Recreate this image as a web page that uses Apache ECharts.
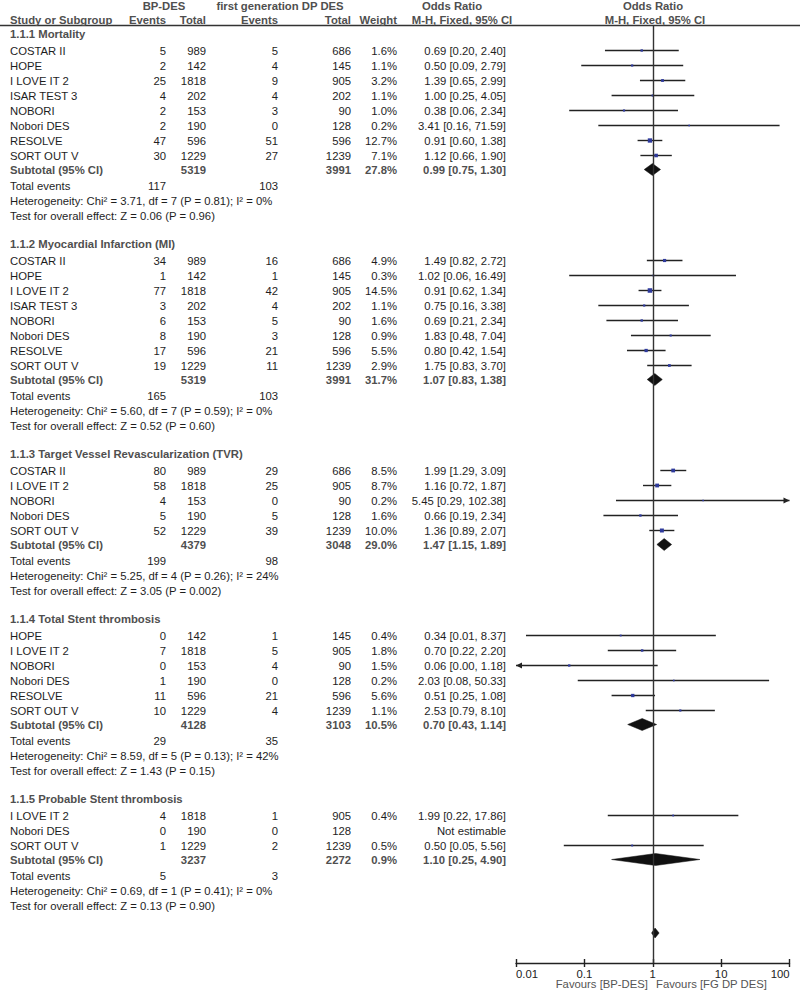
<!DOCTYPE html>
<html><head><meta charset="utf-8">
<script src="https://cdn.jsdelivr.net/npm/echarts@6/dist/echarts.min.js"></script>
<style>html,body{margin:0;padding:0;background:#fff}#c{width:800px;height:993px}</style>
</head><body><div id="c"></div>
<script>
// ---------------- DATA ----------------
const sectionTitles = [
  '1.1.1 Mortality',
  '1.1.2 Myocardial Infarction (MI)',
  '1.1.3 Target Vessel Revascularization (TVR)',
  '1.1.4 Total Stent thrombosis',
  '1.1.5 Probable Stent thrombosis'
];
// [study, BP events, BP total, FG events, FG total, weight %, OR, CI low, CI high]
const mortality = [
  ['COSTAR II', 5, 989, 5, 686, 1.6, 0.69, 0.20, 2.40],
  ['HOPE', 2, 142, 4, 145, 1.1, 0.50, 0.09, 2.79],
  ['I LOVE IT 2', 25, 1818, 9, 905, 3.2, 1.39, 0.65, 2.99],
  ['ISAR TEST 3', 4, 202, 4, 202, 1.1, 1.00, 0.25, 4.05],
  ['NOBORI', 2, 153, 3, 90, 1.0, 0.38, 0.06, 2.34],
  ['Nobori DES', 2, 190, 0, 128, 0.2, 3.41, 0.16, 71.59],
  ['RESOLVE', 47, 596, 51, 596, 12.7, 0.91, 0.60, 1.38],
  ['SORT OUT V', 30, 1229, 27, 1239, 7.1, 1.12, 0.66, 1.90]
];
const infarction = [
  ['COSTAR II', 34, 989, 16, 686, 4.9, 1.49, 0.82, 2.72],
  ['HOPE', 1, 142, 1, 145, 0.3, 1.02, 0.06, 16.49],
  ['I LOVE IT 2', 77, 1818, 42, 905, 14.5, 0.91, 0.62, 1.34],
  ['ISAR TEST 3', 3, 202, 4, 202, 1.1, 0.75, 0.16, 3.38],
  ['NOBORI', 6, 153, 5, 90, 1.6, 0.69, 0.21, 2.34],
  ['Nobori DES', 8, 190, 3, 128, 0.9, 1.83, 0.48, 7.04],
  ['RESOLVE', 17, 596, 21, 596, 5.5, 0.80, 0.42, 1.54],
  ['SORT OUT V', 19, 1229, 11, 1239, 2.9, 1.75, 0.83, 3.70]
];
const revascularization = [
  ['COSTAR II', 80, 989, 29, 686, 8.5, 1.99, 1.29, 3.09],
  ['I LOVE IT 2', 58, 1818, 25, 905, 8.7, 1.16, 0.72, 1.87],
  ['NOBORI', 4, 153, 0, 90, 0.2, 5.45, 0.29, 102.38],
  ['Nobori DES', 5, 190, 5, 128, 1.6, 0.66, 0.19, 2.34],
  ['SORT OUT V', 52, 1229, 39, 1239, 10.0, 1.36, 0.89, 2.07]
];
const totalThrombosis = [
  ['HOPE', 0, 142, 1, 145, 0.4, 0.34, 0.014, 8.37],
  ['I LOVE IT 2', 7, 1818, 5, 905, 1.8, 0.70, 0.22, 2.20],
  ['NOBORI', 0, 153, 4, 90, 1.5, 0.06, 0.003, 1.18],
  ['Nobori DES', 1, 190, 0, 128, 0.2, 2.03, 0.08, 50.33],
  ['RESOLVE', 11, 596, 21, 596, 5.6, 0.51, 0.25, 1.08],
  ['SORT OUT V', 10, 1229, 4, 1239, 1.1, 2.53, 0.79, 8.10]
];
const probableThrombosis = [
  ['I LOVE IT 2', 4, 1818, 1, 905, 0.4, 1.99, 0.22, 17.86],
  ['Nobori DES', 0, 190, 0, 128, null, null, null, null],
  ['SORT OUT V', 1, 1229, 2, 1239, 0.5, 0.50, 0.05, 5.56]
];
// [BP total, FG total, weight %, OR, CI low, CI high]
const subtotals = [
  [5319, 3991, 27.8, 0.99, 0.75, 1.30],
  [5319, 3991, 31.7, 1.07, 0.83, 1.38],
  [4379, 3048, 29.0, 1.47, 1.15, 1.89],
  [4128, 3103, 10.5, 0.70, 0.43, 1.14],
  [3237, 2272, 0.9, 1.10, 0.25, 4.90]
];
const totalEvents = [[117, 103], [165, 103], [199, 98], [29, 35], [5, 3]];
const heterogeneity = [
  'Heterogeneity: Chi\u00b2 = 3.71, df = 7 (P = 0.81); I\u00b2 = 0%',
  'Heterogeneity: Chi\u00b2 = 5.60, df = 7 (P = 0.59); I\u00b2 = 0%',
  'Heterogeneity: Chi\u00b2 = 5.25, df = 4 (P = 0.26); I\u00b2 = 24%',
  'Heterogeneity: Chi\u00b2 = 8.59, df = 5 (P = 0.13); I\u00b2 = 42%',
  'Heterogeneity: Chi\u00b2 = 0.69, df = 1 (P = 0.41); I\u00b2 = 0%'
];
const overallTests = [
  'Test for overall effect: Z = 0.06 (P = 0.96)',
  'Test for overall effect: Z = 0.52 (P = 0.60)',
  'Test for overall effect: Z = 3.05 (P = 0.002)',
  'Test for overall effect: Z = 1.43 (P = 0.15)',
  'Test for overall effect: Z = 0.13 (P = 0.90)'
];
// overall pooled diamond (no label in the figure) [OR, low, high]
const overallEstimate = [1.08, 0.96, 1.24];
const tickLabels = ['0.01', '0.1', '1', '10', '100'];
const favourLabels = ['Favours [BP-DES]', 'Favours [FG DP DES]'];

// ---------------- LAYOUT ----------------
const AXIS_MIN = 0.01, AXIS_MAX = 100;
const LAYOUT = { firstTitle: 33.5, afterTitle: 17, pitch: 15, beforeSubtotal: 14, beforeTotal: 16, sectionGap: 28, overallGap: 27.5 };
const COL = { name: 10, bpEv: 166, bpTot: 206, fgEv: 278, fgTot: 351, wt: 397, or: 506 };
const FONT = '"Liberation Sans", Arial, sans-serif';
const FS = '11.3px';
const DARK = '#1e1e1e', GREY = '#4f4f4f';

const sections = [mortality, infarction, revascularization, totalThrombosis, probableThrombosis];
const rows = [], ciData = [], diamondData = [];
let yy = LAYOUT.firstTitle;
sections.forEach((studies, si) => {
  rows.push({ kind: 'title', y: yy, text: sectionTitles[si] });
  yy += LAYOUT.afterTitle;
  studies.forEach((st, i) => {
    if (i > 0) yy += LAYOUT.pitch;
    rows.push({ kind: 'study', y: yy, d: st });
    if (st[6] != null) ciData.push([st[6], yy, st[7], st[8], st[5]]);
  });
  yy += LAYOUT.beforeSubtotal;
  const sb = subtotals[si];
  rows.push({ kind: 'subtotal', y: yy, d: sb });
  diamondData.push([sb[3], yy, sb[4], sb[5], 6]);
  yy += LAYOUT.beforeTotal;
  rows.push({ kind: 'total', y: yy, d: totalEvents[si] });
  yy += LAYOUT.pitch;
  rows.push({ kind: 'note', y: yy, text: heterogeneity[si] });
  yy += LAYOUT.pitch;
  rows.push({ kind: 'note', y: yy, text: overallTests[si] });
  if (si < sections.length - 1) yy += LAYOUT.sectionGap;
});
diamondData.push([overallEstimate[0], yy + LAYOUT.overallGap, overallEstimate[1], overallEstimate[2], 5]);

const f2 = v => v.toFixed(2);
const orText = (o, l, h) => o == null ? 'Not estimable' : `${f2(o)} [${f2(l)}, ${f2(h)}]`;

function txt(text, x, y, align, bold, color) {
  return { type: 'text', style: { text: String(text), x, y, align, verticalAlign: 'middle',
    font: `${bold ? 'bold ' : ''}${FS} ${FONT}`, fill: color } };
}

function renderRow(params, api) {
  const r = rows[api.value(2)];
  const y = api.coord([1, api.value(1)])[1];
  const c = [];
  if (r.kind === 'title') c.push(txt(r.text, COL.name, y, 'left', true, GREY));
  else if (r.kind === 'note') c.push(txt(r.text, COL.name, y, 'left', false, DARK));
  else if (r.kind === 'study') {
    const d = r.d;
    c.push(txt(d[0], COL.name, y, 'left', false, DARK));
    c.push(txt(d[1], COL.bpEv, y, 'right', false, DARK));
    c.push(txt(d[2], COL.bpTot, y, 'right', false, DARK));
    c.push(txt(d[3], COL.fgEv, y, 'right', false, DARK));
    c.push(txt(d[4], COL.fgTot, y, 'right', false, DARK));
    if (d[5] != null) c.push(txt(d[5].toFixed(1) + '%', COL.wt, y, 'right', false, DARK));
    c.push(txt(orText(d[6], d[7], d[8]), COL.or, y, 'right', false, DARK));
  } else if (r.kind === 'subtotal') {
    const d = r.d;
    c.push(txt('Subtotal (95% CI)', COL.name, y, 'left', true, GREY));
    c.push(txt(d[0], COL.bpTot, y, 'right', true, GREY));
    c.push(txt(d[1], COL.fgTot, y, 'right', true, GREY));
    c.push(txt(d[2].toFixed(1) + '%', COL.wt, y, 'right', true, GREY));
    c.push(txt(orText(d[3], d[4], d[5]), COL.or, y, 'right', true, GREY));
  } else if (r.kind === 'total') {
    c.push(txt('Total events', COL.name, y, 'left', false, DARK));
    c.push(txt(r.d[0], COL.bpEv, y, 'right', false, DARK));
    c.push(txt(r.d[1], COL.fgEv, y, 'right', false, DARK));
  }
  return { type: 'group', children: c };
}

function renderCI(params, api) {
  const est = api.value(0), yv = api.value(1), lo = api.value(2), hi = api.value(3), w = api.value(4);
  const p = api.coord([est, yv]);
  const y = p[1];
  const xMin = api.coord([AXIS_MIN, yv])[0], xMax = api.coord([AXIS_MAX, yv])[0];
  const x1 = lo < AXIS_MIN ? xMin : api.coord([lo, yv])[0];
  const x2 = hi > AXIS_MAX ? xMax : api.coord([hi, yv])[0];
  const c = [{ type: 'line', shape: { x1, y1: y, x2, y2: y }, style: { stroke: '#222', lineWidth: 1.4 } }];
  if (lo < AXIS_MIN) c.push({ type: 'polygon', shape: { points: [[xMin, y], [xMin + 6, y - 3], [xMin + 6, y + 3]] }, style: { fill: '#222' } });
  if (hi > AXIS_MAX) c.push({ type: 'polygon', shape: { points: [[xMax, y], [xMax - 6, y - 3], [xMax - 6, y + 3]] }, style: { fill: '#222' } });
  const s = 1.3 + Math.sqrt(w) * 0.85;
  c.push({ type: 'rect', shape: { x: p[0] - s / 2, y: y - s / 2, width: s, height: s }, style: { fill: '#2e3a9c' } });
  return { type: 'group', children: c };
}

function renderDiamond(params, api) {
  const est = api.value(0), yv = api.value(1), lo = api.value(2), hi = api.value(3), h = api.value(4);
  const pc = api.coord([est, yv]), pl = api.coord([lo, yv]), ph = api.coord([hi, yv]);
  return { type: 'polygon', shape: { points: [[pl[0], pc[1]], [pc[0], pc[1] - h], [ph[0], pc[1]], [pc[0], pc[1] + h]] },
    style: { fill: '#111', stroke: '#111', lineWidth: 0.5 } };
}

const chart = echarts.init(document.getElementById('c'), null, { renderer: 'svg' });
const H = (text, x, y, align, bold) => ({ type: 'text', x, y, style: { text, align, verticalAlign: 'middle', font: `${bold ? 'bold ' : ''}${FS} ${FONT}`, fill: bold ? GREY : DARK }, silent: true });

chart.setOption({
  animation: false,
  backgroundColor: '#fff',
  grid: { left: 516, right: 10.5, top: 26, bottom: 30, containLabel: false, outerBoundsMode: 'none' },
  xAxis: [{
    type: 'log', logBase: 10, min: AXIS_MIN, max: AXIS_MAX, position: 'bottom',
    axisLine: { show: true, lineStyle: { color: '#222', width: 1.4 } },
    axisTick: { show: true, length: 4, lineStyle: { color: '#222', width: 1.4 } },
    splitLine: { show: false }, minorTick: { show: false },
    axisLabel: { show: true, margin: 5, fontSize: 11.3, color: '#222', fontFamily: FONT,
      alignMinLabel: 'left', alignMaxLabel: 'right',
      formatter: v => tickLabels[Math.round(Math.log10(v)) + 2] }
  }, {
    type: 'log', logBase: 10, min: AXIS_MIN, max: AXIS_MAX, position: 'bottom', gridIndex: 0,
    axisLine: { show: false },
    axisTick: { show: true, inside: true, length: 4, lineStyle: { color: '#222', width: 1.4 } },
    axisLabel: { show: false }, splitLine: { show: false }
  }],
  yAxis: { type: 'value', min: 26, max: 963, inverse: true, show: false, splitLine: { show: false } },
  graphic: [
    { type: 'line', shape: { x1: 0, y1: 25.5, x2: 800, y2: 25.5 }, style: { stroke: '#333', lineWidth: 1.4 }, silent: true },
    H('BP-DES', 164, 5.5, 'center', true),
    H('first generation DP DES', 280, 5.5, 'center', true),
    H('Odds Ratio', 452, 5.5, 'center', true),
    H('Odds Ratio', 653, 5.5, 'center', true),
    H('Study or Subgroup', COL.name, 20, 'left', true),
    H('Events', COL.bpEv, 20, 'right', true),
    H('Total', COL.bpTot, 20, 'right', true),
    H('Events', COL.fgEv, 20, 'right', true),
    H('Total', COL.fgTot, 20, 'right', true),
    H('Weight', COL.wt, 20, 'right', true),
    H('M-H, Fixed, 95% CI', 462, 20, 'center', true),
    H('M-H, Fixed, 95% CI', 655, 20, 'center', true),
    { type: 'text', x: 648, y: 984, silent: true, style: { text: favourLabels[0], align: 'right', verticalAlign: 'middle', font: `${FS} ${FONT}`, fill: '#555' } },
    { type: 'text', x: 656, y: 984, silent: true, style: { text: favourLabels[1], align: 'left', verticalAlign: 'middle', font: `${FS} ${FONT}`, fill: '#555' } }
  ],
  series: [
    { type: 'custom', name: 'table', silent: true, clip: false, xAxisIndex: 0,
      data: rows.map((r, i) => [1, r.y, i]), encode: { x: 0, y: 1 }, renderItem: renderRow,
      markLine: { silent: true, symbol: 'none', label: { show: false }, lineStyle: { color: '#333', width: 1.4, type: 'solid' }, data: [{ xAxis: 1 }] } },
    { type: 'custom', name: 'ci', silent: true, clip: false, xAxisIndex: 0,
      data: ciData, encode: { x: 0, y: 1 }, renderItem: renderCI },
    { type: 'custom', name: 'diamonds', silent: true, clip: false, xAxisIndex: 0,
      data: diamondData, encode: { x: 0, y: 1 }, renderItem: renderDiamond }
  ]
});
</script></body></html>
